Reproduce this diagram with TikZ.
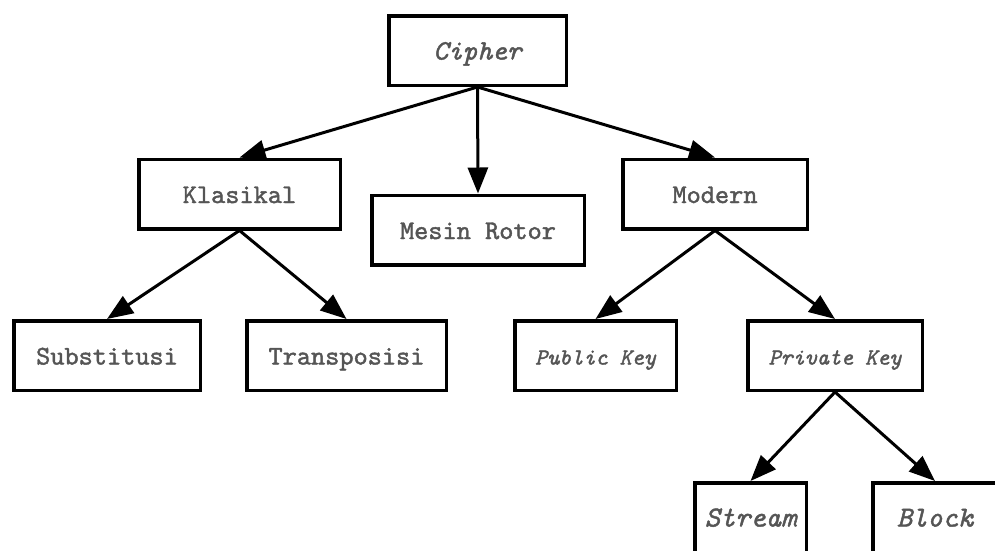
\documentclass[tikz,border=0pt]{standalone}
\usepackage{fontspec}
\setmonofont{lmmono10-regular.otf}[ItalicFont=lmmono10-italic.otf,BoldFont=lmmono10-regular.otf,BoldItalicFont=lmmono10-italic.otf,BoldFeatures={FakeBold=1.6},BoldItalicFeatures={FakeBold=1.6}]
\usetikzlibrary{arrows.meta}
\definecolor{teks}{HTML}{555555}
\begin{document}
\begin{tikzpicture}[x=1pt,y=-1pt,>={Triangle[length=26pt,width=20pt]},
        kotak/.style={draw,line width=3.5pt,minimum width=#1,minimum height=69.5pt,inner sep=0pt,text height=18pt,text depth=0pt,text=teks,font=\ttfamily\bfseries\fontsize{27}{27}\selectfont},
        miring/.style={font=\ttfamily\bfseries\itshape\fontsize{#1}{#1}\selectfont}]
        \useasboundingbox(0,0)rectangle(995,550);\clip(0,0)rectangle(995,550);
        \node[kotak=177.5pt,miring=28](cipher)at(477.5,50.5){Cipher};
        \node[kotak=201.5pt](klasikal)at(239.5,194){Klasikal};
        \node[kotak=212.5pt](rotor)at(478,230){Mesin Rotor};
        \node[kotak=184.5pt](modern)at(715,194){Modern};
        \node[kotak=186.5pt](substitusi)at(107,355.5){Substitusi};
        \node[kotak=199.5pt](transposisi)at(346.5,355.5){Transposisi};
        \node[kotak=161.5pt,miring=23](publik)at(595.5,355.5){Public Key};
        \node[kotak=174.5pt,miring=23](privat)at(835,355.5){Private Key};
        \node[kotak=111.5pt,miring=29](stream)at(750.5,517.5){Stream};
        \node[kotak=124.5pt,miring=29](block)at(935,517.5){Block};
        \foreach \a/\b in{cipher/klasikal,cipher/rotor,cipher/modern,klasikal/substitusi,klasikal/transposisi,modern/publik,modern/privat,privat/stream,privat/block}\draw[->,line width=3pt](\a.south)--(\b.north);
    \end{tikzpicture}
\end{document}
